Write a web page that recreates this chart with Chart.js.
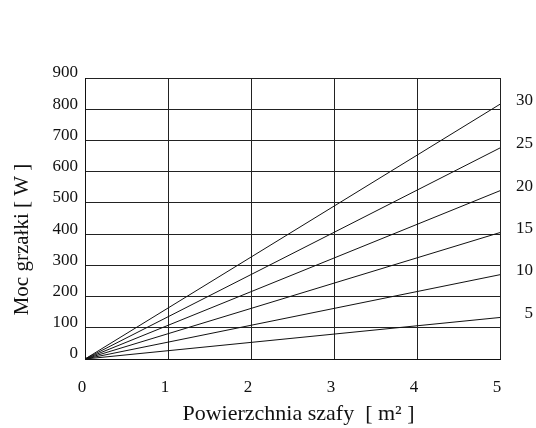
<!DOCTYPE html>
<html>
<head>
<meta charset="utf-8">
<script src="https://cdn.jsdelivr.net/npm/chart.js@4"></script>
<style>
  html, body { margin: 0; padding: 0; background: #fff; }
  #wrap { width: 536px; height: 428px; }
</style>
</head>
<body>
<div id="wrap"><canvas id="c" width="536" height="428"></canvas></div>
<script>
// Data
const areaM2 = [0, 5];                // x: cabinet surface [m²]
const curveLabels = ['5', '10', '15', '20', '25', '30'];
const power5  = [0, 133];
const power10 = [0, 270];
const power15 = [0, 405];
const power20 = [0, 539];
const power25 = [0, 676];
const power30 = [0, 816];
const seriesValues = [power5, power10, power15, power20, power25, power30];
const xTicks = [0, 1, 2, 3, 4, 5];
const yTicks = [0, 100, 200, 300, 400, 500, 600, 700, 800, 900];
const xTitle = 'Powierzchnia szafy  [ m² ]';
const yTitle = 'Moc grzałki [ W ]';

const SERIF = '"Liberation Serif", "Times New Roman", serif';

const datasets = seriesValues.map((vals, i) => ({
  label: curveLabels[i],
  data: areaM2.map((x, j) => ({ x: x, y: vals[j] })),
  borderColor: '#111',
  borderWidth: 1,
  pointRadius: 0,
  fill: false,
  tension: 0
}));

const textPlugin = {
  id: 'curveLabelsAndTitles',
  afterDatasetsDraw(chart) {
    const ctx = chart.ctx;
    const area = chart.chartArea;
    ctx.save();
    ctx.fillStyle = '#111';
    // curve labels at the right ends
    ctx.font = '17px ' + SERIF;
    ctx.textAlign = 'right';
    ctx.textBaseline = 'middle';
    chart.data.datasets.forEach((ds, i) => {
      const meta = chart.getDatasetMeta(i);
      const pt = meta.data[meta.data.length - 1];
      ctx.fillText(ds.label, area.right + 33, pt.y - 4);
    });
    // x axis title
    ctx.textAlign = 'center';
    ctx.font = '22px ' + SERIF;
    ctx.fillText(xTitle, (area.left + area.right) / 2 + 6, 414);
    // y axis title
    ctx.translate(22, (area.top + area.bottom) / 2 + 21);
    ctx.rotate(-Math.PI / 2);
    ctx.font = '21px ' + SERIF;
    ctx.fillText(yTitle, 0, 0);
    ctx.restore();
  }
};

new Chart(document.getElementById('c'), {
  type: 'line',
  data: { datasets },
  options: {
    responsive: false,
    animation: false,
    layout: { padding: { top: 78, right: 36, bottom: 0, left: 0 } },
    plugins: { legend: { display: false }, tooltip: { enabled: false } },
    scales: {
      x: {
        type: 'linear',
        min: 0, max: 5,
        afterBuildTicks(scale) { scale.ticks = xTicks.map(v => ({ value: v })); },
        afterFit(scale) { scale.height = 69; },
        grid: { color: '#222', lineWidth: 1, drawTicks: false },
        border: { color: '#111', width: 1 },
        ticks: { color: '#111', padding: 18, labelOffset: -3, font: { family: SERIF, size: 17 } },
        title: { display: false }
      },
      y: {
        type: 'linear',
        min: 0, max: 900,
        afterBuildTicks(scale) { scale.ticks = yTicks.map(v => ({ value: v })); },
        afterFit(scale) { scale.width = 85; },
        grid: { color: '#222', lineWidth: 1, drawTicks: false },
        border: { color: '#111', width: 1 },
        ticks: { color: '#111', padding: 7, labelOffset: -5, font: { family: SERIF, size: 17 } },
        title: { display: false }
      }
    }
  },
  plugins: [textPlugin]
});
</script>
</body>
</html>
